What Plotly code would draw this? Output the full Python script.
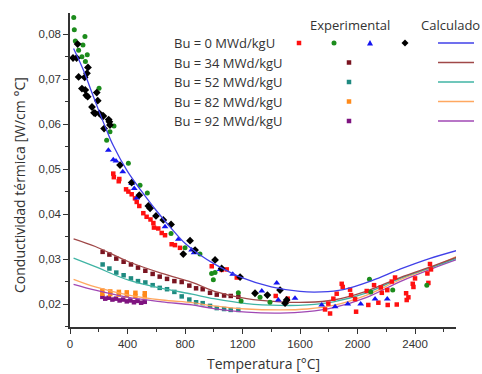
import plotly.graph_objects as go

# ---------------- data ----------------
# Bu = 0 MWd/kgU experimental sets
red_x = [301, 305, 339, 343, 390, 406, 429, 452, 464, 482, 510, 533, 560, 580, 584, 614, 638, 661, 707, 730, 765,
         986, 1055, 1090, 1160, 1431, 1514, 1774, 1797, 1809, 1832, 1855, 1890, 1897, 1948, 1955, 1983, 1990,
         2064, 2075, 2115, 2145, 2162, 2169, 2207, 2210, 2238, 2261, 2273, 2338, 2342, 2354, 2384, 2389, 2400,
         2486, 2493, 2504, 2511]
red_y = [0.0490, 0.0482, 0.0473, 0.0478, 0.0455, 0.0450, 0.0444, 0.0435, 0.0427, 0.0418, 0.0402, 0.0394, 0.0388,
         0.0380, 0.0370, 0.0368, 0.0358, 0.0353, 0.0333, 0.0331, 0.0325,
         0.0284, 0.0276, 0.0277, 0.0259, 0.0218, 0.0212, 0.0188, 0.0201, 0.0179, 0.0212, 0.0223, 0.0245, 0.0238,
         0.0232, 0.0220, 0.0211, 0.0183, 0.0229, 0.0198, 0.0242, 0.0203, 0.0237, 0.0225, 0.0231, 0.0198, 0.0250,
         0.0259, 0.0199, 0.0224, 0.0209, 0.0215, 0.0245, 0.0238, 0.0257, 0.0268, 0.0247, 0.0289, 0.0277]

green_x = [26, 30, 37, 60, 83, 90, 104, 107, 120, 202, 255, 278, 306, 406, 487, 538, 703, 800, 904, 985, 997, 1009,
           1171, 1190, 1322, 1391, 2083, 2092, 2245, 2482]
green_y = [0.0837, 0.0810, 0.0785, 0.0764, 0.0750, 0.0776, 0.0795, 0.0739, 0.0754, 0.0680, 0.0564, 0.0583, 0.0596,
           0.0513, 0.0464, 0.0447, 0.0357, 0.0325, 0.0311, 0.0268, 0.0254, 0.0270,
           0.0225, 0.0207, 0.0215, 0.0204, 0.0255, 0.0227, 0.0231, 0.0242]

blue_x = [267, 301, 320, 367, 429, 447, 464, 661, 754, 846, 863, 1044, 1132, 1334, 1438, 1449, 1565, 1751, 1844,
          1932, 2022, 2122, 2207]
blue_y = [0.0542, 0.0521, 0.0518, 0.0494, 0.0468, 0.0457, 0.0436, 0.0372, 0.0344, 0.0320, 0.0314, 0.0277, 0.0266,
          0.0229, 0.0247, 0.0209, 0.0213, 0.0198, 0.0194, 0.0200, 0.0200, 0.0211, 0.0211]

black_x = [21, 46, 53, 60, 83, 102, 106, 113, 118, 123, 125, 153, 167, 176, 186, 193, 204, 223, 232, 237, 269, 274,
           278, 348, 429, 482, 545, 557, 598, 649, 703, 788, 835, 870, 1009, 1055, 1183, 1287, 1373, 1461, 1496, 1507]
black_y = [0.0747, 0.0747, 0.0778, 0.0705, 0.0679, 0.0704, 0.0676, 0.0664, 0.0713, 0.0661, 0.0726, 0.0638, 0.0625,
           0.0624, 0.0670, 0.0652, 0.0624, 0.0618, 0.0618, 0.0590, 0.0610, 0.0605, 0.0598, 0.0509, 0.0470, 0.0442,
           0.0418, 0.0413, 0.0396, 0.0387, 0.0377, 0.0311, 0.0341, 0.0320, 0.0298, 0.0279, 0.0260, 0.0224, 0.0220,
           0.0231, 0.0202, 0.0209]

# higher burn-up experimental sets
bu34_x = [227, 274, 322, 373, 424, 473, 524, 575, 624, 675, 726, 777, 830, 877, 923, 974, 1021, 1072, 1118, 1171]
bu34_y = [0.0316, 0.0310, 0.0301, 0.0294, 0.0288, 0.0281, 0.0274, 0.0267, 0.0261, 0.0256, 0.0251, 0.0249, 0.0241,
          0.0235, 0.0233, 0.0225, 0.0221, 0.0219, 0.0218, 0.0216]
bu52_x = [227, 274, 322, 373, 424, 473, 524, 575, 624, 675, 726, 777, 830, 877, 923, 974, 1021, 1072, 1118, 1171]
bu52_y = [0.0288, 0.0279, 0.0270, 0.0264, 0.0257, 0.0251, 0.0248, 0.0242, 0.0236, 0.0233, 0.0227, 0.0217, 0.0210,
          0.0204, 0.0202, 0.0196, 0.0191, 0.0189, 0.0187, 0.0187]
bu82_x = [225, 280, 340, 395, 455, 520, 225, 280, 340, 395, 455, 520]
bu82_y = [0.0230, 0.0228, 0.0227, 0.0226, 0.0225, 0.0224, 0.0223, 0.0222, 0.0221, 0.0219, 0.0218, 0.0217]
bu92_x = [225, 270, 320, 370, 420, 470, 520, 245, 295, 345, 395, 445, 495]
bu92_y = [0.0216, 0.0214, 0.0212, 0.0210, 0.0208, 0.0207, 0.0205, 0.0212, 0.0210, 0.0208, 0.0206, 0.0204, 0.0203]

# calculated curves
calc0_x = [25, 100, 150, 200, 250, 300, 400, 500, 600, 700, 800, 900, 1000, 1200, 1400, 1600, 1750, 1900, 2100,
           2300, 2500, 2690]
calc0_y = [0.0768, 0.0715, 0.0672, 0.0630, 0.0590, 0.0553, 0.0495, 0.0450, 0.0408, 0.0370, 0.0335, 0.0310, 0.0290,
           0.0258, 0.0238, 0.0228, 0.0227, 0.0232, 0.0252, 0.0278, 0.0301, 0.0319]
calc_x = [25, 176, 408, 640, 849, 1000, 1229, 1461, 1650, 1832, 2064, 2296, 2528, 2690]
calc34_y = [0.0345, 0.0328, 0.0294, 0.0268, 0.0248, 0.0229, 0.0212, 0.0205, 0.0204, 0.0209, 0.0229, 0.0259, 0.0285,
            0.0304]
calc52_y = [0.0302, 0.0283, 0.0253, 0.0235, 0.0222, 0.0212, 0.0201, 0.0197, 0.0198, 0.0205, 0.0225, 0.0257, 0.0283,
            0.0302]
calc82_y = [0.0255, 0.0238, 0.0220, 0.0209, 0.0203, 0.0196, 0.0189, 0.0187, 0.0189, 0.0197, 0.0220, 0.0254, 0.0283,
            0.0306]
calc92_y = [0.0244, 0.0231, 0.0215, 0.0205, 0.0198, 0.0190, 0.0182, 0.0180, 0.0183, 0.0192, 0.0215, 0.0250, 0.0280,
            0.0299]

row_labels = ["Bu = 0 MWd/kgU", "Bu = 34 MWd/kgU", "Bu = 52 MWd/kgU", "Bu = 82 MWd/kgU", "Bu = 92 MWd/kgU"]

# ---------------- styles ----------------
C_RED, C_GREEN, C_BLUE, C_BLACK = "#ff1010", "#1c8c1c", "#1414f0", "#000000"
C_34, C_52, C_82, C_92 = "#7a1420", "#1f8a80", "#ff8a1a", "#7f1480"
L_0, L_34, L_52, L_82, L_92 = "#4040e8", "#a04848", "#40b4a4", "#ffa860", "#a048b4"

fig = go.Figure()

def line(x, y, color):
    fig.add_trace(go.Scatter(x=x, y=y, mode="lines", line=dict(color=color, width=1.3, shape="spline"),
                             showlegend=False, hoverinfo="skip"))

def pts(x, y, color, symbol, size):
    fig.add_trace(go.Scatter(x=x, y=y, mode="markers", marker=dict(color=color, symbol=symbol, size=size,
                             line=dict(width=0)), showlegend=False))

pts(bu92_x, bu92_y, C_92, "square", 4.5)
pts(bu82_x, bu82_y, C_82, "square", 4.5)
pts(bu52_x, bu52_y, C_52, "square", 4.5)
pts(bu34_x, bu34_y, C_34, "square", 4.5)
line(calc_x, calc92_y, L_92)
line(calc_x, calc82_y, L_82)
line(calc_x, calc52_y, L_52)
line(calc_x, calc34_y, L_34)
pts(red_x, red_y, C_RED, "square", 4.5)
pts(green_x, green_y, C_GREEN, "circle", 5)
pts(blue_x, blue_y, C_BLUE, "triangle-up", 6)
pts(black_x, black_y, C_BLACK, "diamond", 6)
line(calc0_x, calc0_y, L_0)

# ---------------- legend (drawn as layout decorations) ----------------
L, R, T, B = 70, 456, 13, 327
def xp(px): return (px - L) / (R - L)
def yp(py): return (B - py) / (B - T)

font_main = dict(family="Open Sans", size=13, color="#333333")
ann = []
shapes = []
ann.append(dict(text="Experimental", x=xp(350), y=yp(25), xref="paper", yref="paper", showarrow=False,
                xanchor="center", yanchor="middle", font=font_main))
ann.append(dict(text="Calculado", x=xp(450), y=yp(25), xref="paper", yref="paper", showarrow=False,
                xanchor="center", yanchor="middle", font=font_main))
row_y = [43, 62.5, 82, 101.5, 121]
for lab, ry in zip(row_labels, row_y):
    ann.append(dict(text=lab, x=xp(172), y=yp(ry), xref="paper", yref="paper", showarrow=False,
                    xanchor="left", yanchor="middle", font=font_main))

def mshape(px, py, kind, color, s):
    base = dict(xref="paper", yref="paper", xsizemode="pixel", ysizemode="pixel", xanchor=xp(px), yanchor=yp(py),
                fillcolor=color, line=dict(width=0))
    h = s / 2
    if kind == "square":
        base.update(type="rect", x0=-h, x1=h, y0=-h, y1=h)
    elif kind == "circle":
        base.update(type="circle", x0=-h, x1=h, y0=-h, y1=h)
    elif kind == "triangle":
        base.update(type="path", path=f"M {-h},{-h*0.8} L {h},{-h*0.8} L 0,{h} Z")
    else:
        base.update(type="path", path=f"M 0,{h} L {h},0 L 0,{-h} L {-h},0 Z")
    shapes.append(base)

mshape(299, 43, "square", C_RED, 4.5)
mshape(334, 43, "circle", C_GREEN, 5)
mshape(370, 43, "triangle", C_BLUE, 6)
mshape(405, 43, "diamond", C_BLACK, 7)
for ry, c in zip(row_y[1:], [C_34, C_52, C_82, C_92]):
    mshape(349, ry, "square", c, 4.5)
for ry, c in zip(row_y, [L_0, L_34, L_52, L_82, L_92]):
    shapes.append(dict(type="line", xref="paper", yref="paper", x0=xp(438), x1=xp(474), y0=yp(ry), y1=yp(ry),
                       line=dict(color=c, width=1.3)))

# axis titles
ann.append(dict(text="Temperatura [°C]", x=xp(263), y=yp(363), xref="paper", yref="paper", showarrow=False,
                xanchor="center", yanchor="middle", font=dict(family="Open Sans", size=14, color="#333333")))
ann.append(dict(text="Conductividad térmica [W/cm °C]", x=xp(19), y=yp(185), xref="paper", yref="paper",
                showarrow=False, textangle=-90, xanchor="center", yanchor="middle",
                font=dict(family="Open Sans", size=14, color="#333333")))

axis_common = dict(showline=True, linecolor="#333333", linewidth=1.5, ticks="outside", tickcolor="#333333",
                   ticklen=5, tickwidth=1.2, showgrid=False, zeroline=False, mirror=False,
                   tickfont=dict(family="Liberation Sans", size=11.5, color="#333333"))

fig.update_layout(
    width=482, height=374, margin=dict(l=L, r=482 - R, t=T, b=374 - B),
    paper_bgcolor="white", plot_bgcolor="white", separators=",.",
    xaxis=dict(range=[0, 2685], tickvals=[0, 400, 800, 1200, 1600, 2000, 2400], tickformat=".0f",
               minor=dict(tickvals=[200, 600, 1000, 1400, 1800, 2200, 2600], ticks="outside", ticklen=3,
                          tickcolor="#333333"), **axis_common),
    yaxis=dict(range=[0.0149, 0.0847], tickvals=[0.02, 0.03, 0.04, 0.05, 0.06, 0.07, 0.08], tickformat=".2f",
               minor=dict(tickvals=[0.015, 0.025, 0.035, 0.045, 0.055, 0.065, 0.075], ticks="outside", ticklen=3,
                          tickcolor="#333333"), **axis_common),
    annotations=ann, shapes=shapes, showlegend=False,
)

fig.write_html("out.html", config={"displayModeBar": False},
               post_script="document.body.style.margin='0px';document.body.style.padding='0px';")
